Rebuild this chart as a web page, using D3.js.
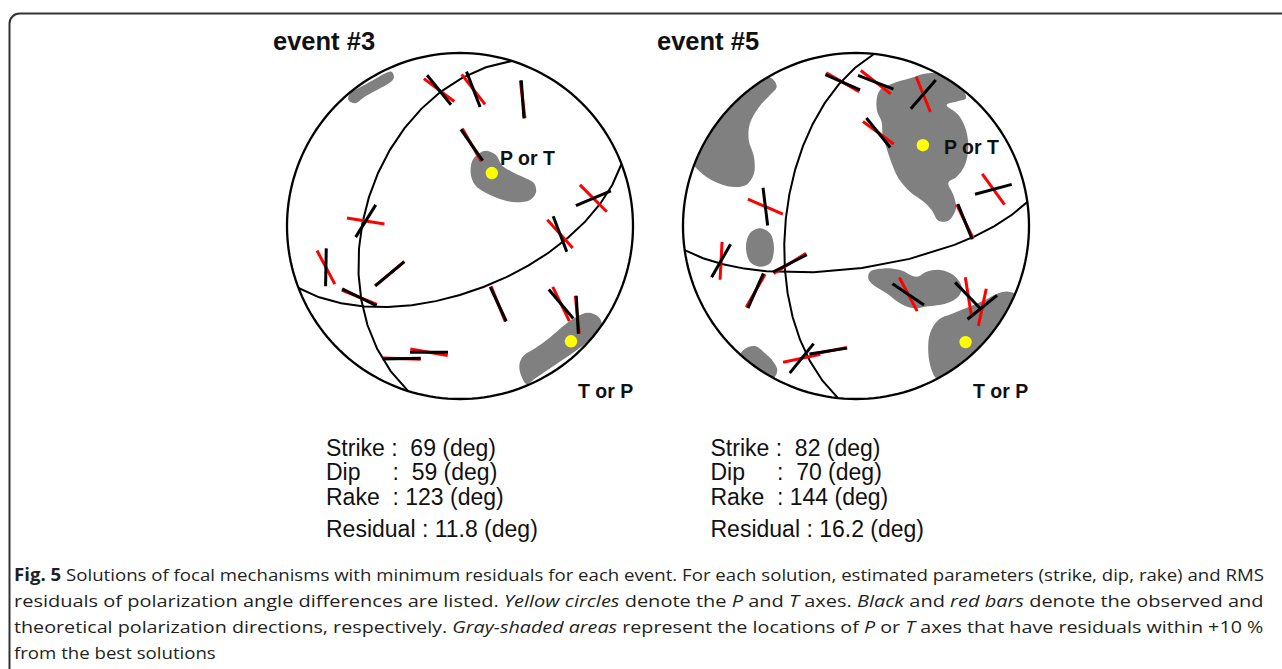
<!DOCTYPE html>
<html>
<head>
<meta charset="utf-8">
<script src="https://cdn.jsdelivr.net/npm/d3@7"></script>
<style>
  html, body { margin: 0; padding: 0; background: #fff; }
  svg { display: block; }
</style>
</head>
<body>
<svg id="fig" width="1282" height="669"></svg>
<script>
// ---- Focal mechanism solutions (lower-hemisphere, equal-area) ----
const eventNames = ["event #3", "event #5"];
const strikes = [69, 82];
const dips = [59, 70];
const rakes = [123, 144];
const residuals = [11.8, 16.2];

// Stations: [x, y] on the projection disc (east, north; unit = primitive radius),
// observed (black) and theoretical (red) polarization azimuths in degrees.
const stationsEv3 = [
  [-0.121, 0.786, 141, 127],
  [0.077, 0.790, 159, 142],
  [0.362, 0.732, 176, 173],
  [0.068, 0.468, 145, 150],
  [0.771, 0.160, 67, 135],
  [0.578, -0.046, 159, 138],
  [-0.545, 0.029, 32, 99],
  [-0.775, -0.239, 1, 152],
  [-0.582, -0.412, 116, 112],
  [-0.406, -0.276, 50, 50],
  [0.221, -0.451, 155, 158],
  [0.584, -0.451, 140, 154],
  [0.678, -0.513, 177, 174],
  [-0.337, -0.767, 89, 92],
  [-0.179, -0.730, 90, 100]
];
const stationsEv5 = [
  [-0.077, 0.831, 114, 120],
  [0.114, 0.831, 111, 128],
  [0.389, 0.761, 41, 158],
  [0.129, 0.539, 141, 126],
  [0.794, 0.212, 75, 144],
  [0.630, 0.025, 158, 154],
  [-0.524, 0.112, 173, 113],
  [-0.780, -0.201, 30, 3],
  [-0.382, -0.216, 63, 58],
  [-0.580, -0.374, 24, 30],
  [-0.314, -0.765, 39, 78],
  [-0.160, -0.723, 81, 79],
  [0.302, -0.395, 124, 152],
  [0.649, -0.405, 136, 171],
  [0.730, -0.470, 51, 12]
];

// Regions of P or T axes with residuals within +10 % of the best solution
const regionsEv3 = [
  [[-0.645,0.728],[-0.636,0.767],[-0.578,0.802],[-0.501,0.844],[-0.434,0.882],[-0.395,0.892],
   [-0.382,0.859],[-0.405,0.829],[-0.472,0.790],[-0.549,0.748],[-0.607,0.709]],
  [[0.154,0.435],[0.116,0.424],[0.073,0.382],[0.062,0.304],[0.087,0.237],[0.154,0.189],
   [0.250,0.150],[0.328,0.137],[0.405,0.150],[0.439,0.193],[0.428,0.247],[0.370,0.281],
   [0.299,0.314],[0.241,0.353],[0.208,0.410]],
  [[0.343,-0.803],[0.366,-0.751],[0.434,-0.707],[0.520,-0.644],[0.597,-0.578],[0.674,-0.524],
   [0.742,-0.501],[0.800,-0.524],[0.819,-0.566],[0.780,-0.630],[0.703,-0.697],[0.607,-0.765],
   [0.511,-0.829],[0.434,-0.881],[0.385,-0.913],[0.356,-0.871]]
];
const regionsEv5 = [
  [[-0.468,0.834],[-0.497,0.859],[-0.555,0.848],[-0.651,0.796],[-0.757,0.709],[-0.844,0.593],
   [-0.911,0.478],[-0.940,0.362],[-0.902,0.314],[-0.815,0.256],[-0.719,0.227],[-0.636,0.237],
   [-0.590,0.304],[-0.590,0.401],[-0.620,0.497],[-0.613,0.593],[-0.559,0.690],[-0.497,0.757],
   [-0.459,0.802]],
  [[-0.555,-0.013],[-0.497,-0.042],[-0.474,-0.129],[-0.497,-0.216],[-0.555,-0.235],
   [-0.613,-0.206],[-0.636,-0.119],[-0.613,-0.042]],
  [[-0.651,-0.717],[-0.584,-0.694],[-0.526,-0.736],[-0.478,-0.784],[-0.455,-0.832],
   [-0.478,-0.881],[-0.555,-0.881],[-0.690,-0.813]],
  [[0.119,0.728],[0.139,0.786],[0.216,0.825],[0.312,0.854],[0.389,0.879],[0.466,0.882],
   [0.543,0.844],[0.611,0.796],[0.636,0.738],[0.582,0.719],[0.524,0.699],[0.592,0.642],
   [0.636,0.555],[0.649,0.449],[0.630,0.353],[0.582,0.285],[0.534,0.250],[0.563,0.179],
   [0.578,0.102],[0.534,0.031],[0.476,0.031],[0.437,0.092],[0.389,0.141],[0.312,0.198],
   [0.245,0.276],[0.206,0.362],[0.177,0.449],[0.154,0.526],[0.148,0.603],[0.123,0.661]],
  [[0.081,-0.264],[0.158,-0.245],[0.254,-0.254],[0.351,-0.293],[0.408,-0.264],[0.486,-0.254],
   [0.563,-0.283],[0.611,-0.351],[0.592,-0.408],[0.524,-0.447],[0.408,-0.466],[0.331,-0.476],
   [0.254,-0.447],[0.177,-0.389],[0.100,-0.341],[0.071,-0.303]],
  [[0.428,-0.620],[0.476,-0.543],[0.563,-0.505],[0.659,-0.466],[0.746,-0.428],[0.823,-0.389],
   [0.881,-0.380],[0.938,-0.408],[0.909,-0.543],[0.794,-0.697],[0.678,-0.813],[0.543,-0.890],
   [0.466,-0.881],[0.437,-0.832],[0.418,-0.736]]
];

const stationSets = [stationsEv3, stationsEv5];
const regionSets = [regionsEv3, regionsEv5];

// Figure caption
const captionLines = [
  [["Fig. 5", "b"], [" Solutions of focal mechanisms with minimum residuals for each event. For each solution, estimated parameters (strike, dip, rake) and RMS", "n"]],
  [["residuals of polarization angle differences are listed. ", "n"], ["Yellow circles", "i"], [" denote the ", "n"], ["P", "i"], [" and ", "n"], ["T", "i"], [" axes. ", "n"], ["Black", "i"], [" and ", "n"], ["red bars", "i"], [" denote the observed and", "n"]],
  [["theoretical polarization directions, respectively. ", "n"], ["Gray-shaded areas", "i"], [" represent the locations of ", "n"], ["P", "i"], [" or ", "n"], ["T", "i"], [" axes that have residuals within +10 %", "n"]],
  [["from the best solutions", "n"]]
];

// ---- layout ----
const W = 1282, H = 669;
const netR = 173;
const netCenters = [[460, 226], [856, 226]];
const titlePos = [[273, 49.5], [657, 49.5]];
const paramX = [326, 710.5];
const paramBaselines = [455.5, 480, 504.5, 537];
const upperLabelPos = [[500, 165], [944, 154]];
const lowerLabelPos = [[578, 397.5], [973, 397.5]];
const barLen = 38;
const sansFont = "'Liberation Sans', Arial, Helvetica, sans-serif";

const svg = d3.select("#fig");
svg.append("rect").attr("width", W).attr("height", H).attr("fill", "#fff");

// frame
svg.append("path")
  .attr("d", "M9.5,669 V23.5 A10,10 0 0 1 19.5,13.5 H1282")
  .attr("fill", "none").attr("stroke", "#333").attr("stroke-width", 2);

const deg = Math.PI / 180;

// Plane geometry from strike / dip / rake
function mechanism(strike, dip, rake) {
  const f = strike * deg, d = dip * deg, l = rake * deg;
  const n = [-Math.sin(d) * Math.sin(f), Math.sin(d) * Math.cos(f), -Math.cos(d)];
  const s = [Math.cos(l) * Math.cos(f) + Math.sin(l) * Math.cos(d) * Math.sin(f),
             Math.cos(l) * Math.sin(f) - Math.sin(l) * Math.cos(d) * Math.cos(f),
             -Math.sin(l) * Math.sin(d)];
  // auxiliary plane: its normal is the slip vector
  let a = s.slice();
  if (a[2] > 0) a = a.map(v => -v);
  const auxDip = Math.acos(-a[2]) / deg;
  const auxStrike = (Math.atan2(-a[0], a[1]) / deg + 360) % 360;
  const lowerAxis = v => {
    let [x, y, z] = v;
    const m = Math.hypot(x, y, z);
    x /= m; y /= m; z /= m;
    if (z < 0) { x = -x; y = -y; z = -z; }
    return { trend: (Math.atan2(y, x) / deg + 360) % 360, plunge: Math.asin(z) / deg };
  };
  const t = lowerAxis(n.map((v, i) => v + s[i]));
  const p = lowerAxis(n.map((v, i) => v - s[i]));
  return {
    planes: [{ strike: strike, dip: dip }, { strike: auxStrike, dip: auxDip }],
    axes: [t, p].sort((u, v) => v.plunge - u.plunge)
  };
}

// (trend, plunge) -> geographic coordinates on the rotated sphere
const geo = (trend, plunge) => [180 - trend, plunge];

eventNames.forEach((name, k) => {
  const [cx, cy] = netCenters[k];
  const g = svg.append("g");

  const projection = d3.geoAzimuthalEqualArea()
    .rotate([0, -90])
    .scale(netR / Math.SQRT2)
    .translate([cx, cy]);
  const path = d3.geoPath(projection);

  const x = d3.scaleLinear().domain([-1, 1]).range([cx - netR, cx + netR]);
  const y = d3.scaleLinear().domain([-1, 1]).range([cy + netR, cy - netR]);

  const mech = mechanism(strikes[k], dips[k], rakes[k]);

  // clip to the primitive circle
  const clipId = "net-clip-" + k;
  svg.append("defs").append("clipPath").attr("id", clipId)
    .append("path").attr("d", path(d3.geoCircle().center([0, 90]).radius(90)()));

  // shaded regions
  const blob = d3.line().x(d => x(d[0])).y(d => y(d[1])).curve(d3.curveCatmullRomClosed.alpha(0.5));
  g.append("g").attr("clip-path", `url(#${clipId})`)
    .selectAll("path").data(regionSets[k]).join("path")
    .attr("d", blob).attr("fill", "#808080");

  // nodal planes
  g.append("g").selectAll("path").data(mech.planes).join("path")
    .attr("d", pl => path({
      type: "LineString",
      coordinates: [geo(pl.strike, 0), geo(pl.strike + 90, pl.dip), geo(pl.strike + 180, 0)]
    }))
    .attr("fill", "none").attr("stroke", "#000").attr("stroke-width", 2);

  // primitive circle
  g.append("path")
    .attr("d", path(d3.geoCircle().center([0, 90]).radius(90)()))
    .attr("fill", "none").attr("stroke", "#000").attr("stroke-width", 2.3);

  // polarization bars: theoretical (red) under observed (black)
  const bar = (s, az) => {
    const px = x(s[0]), py = y(s[1]);
    const dx = Math.sin(az * deg) * barLen / 2, dy = -Math.cos(az * deg) * barLen / 2;
    return `M${px - dx},${py - dy}L${px + dx},${py + dy}`;
  };
  g.append("g").selectAll("path").data(stationSets[k]).join("path")
    .attr("d", s => bar(s, s[3])).attr("stroke", "#f00").attr("stroke-width", 3);
  g.append("g").selectAll("path").data(stationSets[k]).join("path")
    .attr("d", s => bar(s, s[2])).attr("stroke", "#000").attr("stroke-width", 3);

  // P and T axes
  g.append("g").selectAll("circle").data(mech.axes).join("circle")
    .attr("cx", a => projection(geo(a.trend, a.plunge))[0])
    .attr("cy", a => projection(geo(a.trend, a.plunge))[1])
    .attr("r", 6.2).attr("fill", "#ffff00");

  // labels
  const txt = (pos, s, size) => g.append("text")
    .attr("x", pos[0]).attr("y", pos[1])
    .attr("font-family", sansFont).attr("font-weight", "bold")
    .attr("font-size", size).attr("fill", "#111").text(s);
  txt(titlePos[k], name, 25.5);
  txt(upperLabelPos[k], "P or T", 19.5);
  txt(lowerLabelPos[k], "T or P", 19.5);

  // parameters
  const pad = v => String(v).padStart(3, " ");
  const rows = [
    `Strike : ${pad(strikes[k])} (deg)`,
    `Dip     : ${pad(dips[k])} (deg)`,
    `Rake  : ${pad(rakes[k])} (deg)`,
    `Residual : ${residuals[k].toFixed(1)} (deg)`
  ];
  g.append("g").selectAll("text").data(rows).join("text")
    .attr("x", paramX[k]).attr("y", (d, i) => paramBaselines[i])
    .attr("xml:space", "preserve").style("white-space", "pre")
    .attr("font-family", sansFont).attr("font-size", 23).attr("fill", "#111")
    .text(d => d);
});

// ---- caption ----
const capX = 14, capRight = 1264;
const capBaselines = [581, 607, 633, 659];
const capFont = "'Open Sans', 'Noto Sans', sans-serif";
let firstScale = 1;
captionLines.forEach((segs, i) => {
  const t = svg.append("text")
    .attr("x", 0).attr("y", 0)
    .attr("xml:space", "preserve").style("white-space", "pre")
    .attr("font-family", capFont).attr("font-size", 17).attr("fill", "#231f20");
  segs.forEach(([s, st]) => {
    t.append("tspan").text(s)
      .attr("font-weight", st === "b" ? "bold" : null)
      .attr("font-style", st === "i" ? "italic" : null);
  });
  const w = t.node().getComputedTextLength();
  let sc = (capRight - capX) / w;
  if (i === 0) firstScale = sc;
  if (i === captionLines.length - 1) sc = firstScale;
  t.attr("transform", `translate(${capX},${capBaselines[i]}) scale(${sc},1)`);
});
</script>
</body>
</html>
